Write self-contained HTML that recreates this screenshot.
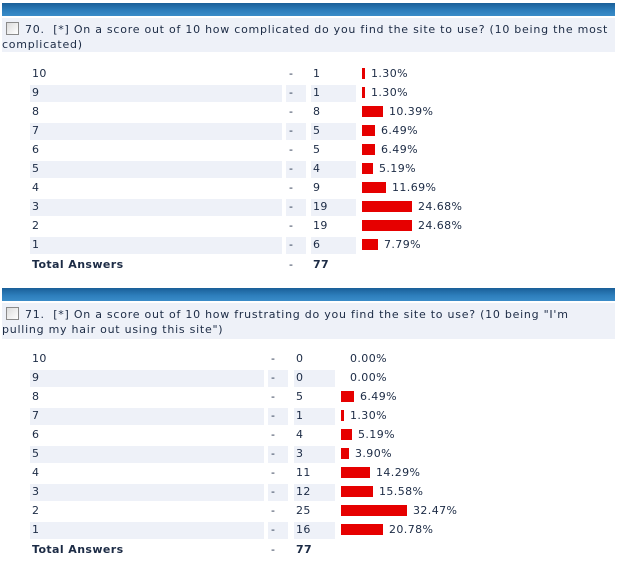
<!DOCTYPE html>
<html><head><meta charset="utf-8"><style>
body{margin:0;width:619px;height:565px;background:#fff;position:relative;overflow:hidden;font-family:Verdana,"DejaVu Sans","Liberation Sans",sans-serif;font-size:11px;color:#1c2b45;letter-spacing:0.4px}
.abs{position:absolute}
.bluebar{position:absolute;left:2px;width:613px;height:13px;background:linear-gradient(#1a5f98,#2e7fbd 60%,#3a8cc8)}
.qhead{position:absolute;left:2px;width:613px;background:#eef1f8;line-height:15px;font-size:11px;letter-spacing:0.75px}
.cb{display:inline-block;width:11px;height:11px;border:1px solid #8a8a8a;background:linear-gradient(135deg,#dcdcdc,#fff);vertical-align:-2px;margin:0 6px 0 4px}
.cell{position:absolute;height:17px}
.t{position:absolute;line-height:14px;white-space:nowrap}
.bar{position:absolute;height:11px;background:#e60000}
</style></head><body>
<div class="bluebar" style="top:3px"></div>
<div class="qhead" style="top:18px;height:34px;padding-top:4px;box-sizing:border-box"><span class="cb"></span>70.&nbsp; [*] On a score out of 10 how complicated do you find the site to use? (10 being the most complicated)</div>
<div class="bluebar" style="top:288px"></div>
<div class="qhead" style="top:303px;height:36px;padding-top:4px;box-sizing:border-box"><span class="cb"></span>71.&nbsp; [*] On a score out of 10 how frustrating do you find the site to use? (10 being "I'm pulling my hair out using this site")</div>
<div id="c1"></div>
<div id="c2"></div>
<script>
const labels=["10","9","8","7","6","5","4","3","2","1"];
const counts1=[1,1,8,5,5,4,9,19,19,6];
const pcts1=[1.30,1.30,10.39,6.49,6.49,5.19,11.69,24.68,24.68,7.79];
const total1=77;
const counts2=[0,0,5,1,4,3,11,12,25,16];
const pcts2=[0.00,0.00,6.49,1.30,5.19,3.90,14.29,15.58,32.47,20.78];
const total2=77;
function draw(host,pre,top,counts,pcts,total,g){
  const root=document.getElementById(host);
  function add(cls,style,txt,name){const e=document.createElement('div');e.className=cls;e.style.cssText=style;if(txt!=null)e.textContent=txt;
    
    
    root.appendChild(e);return e;}
  const scale=2.03;
  labels.forEach((lab,i)=>{
    const y=top+i*19;
    if(i%2==1){
      add('cell abs',`left:30px;top:${y-2}px;width:${g.dash-37}px;background:#eef1f8`,null,pre+'row-bg');
      add('cell abs',`left:${g.dash-3}px;top:${y-2}px;width:20px;background:#eef1f8`,null,pre+'row-bg');
      add('cell abs',`left:${g.cnt-2}px;top:${y-2}px;width:${g.bar-g.cnt-4}px;background:#eef1f8`,null,pre+'row-bg');
    }
    add('t',`left:32px;top:${y-1}px`,lab,pre+'label-'+lab);
    add('t',`left:${g.dash}px;top:${y-1}px`,'-',pre+'dash');
    add('t',`left:${g.cnt}px;top:${y-1}px`,String(counts[i]),pre+'count-'+lab);
    const w=Math.round(pcts[i]*scale);
    if(w>0) add('bar',`left:${g.bar}px;top:${y}px;width:${Math.max(w,3)}px`,null,pre+'bar-'+lab);
    add('t',`left:${g.bar+Math.max(w,3)+6}px;top:${y-1}px`,pcts[i].toFixed(2)+'%',pre+'pct-'+lab);
  });
  const y=top+10*19+1;
  add('t',`left:32px;top:${y-1}px;font-weight:bold`,'Total Answers',pre+'total-label');
  add('t',`left:${g.dash}px;top:${y-1}px`,'-',pre+'total-dash');
  add('t',`left:${g.cnt}px;top:${y-1}px;font-weight:bold`,String(total),pre+'total-count');
}
draw('c1','q70-',68,counts1,pcts1,total1,{dash:289,cnt:313,bar:362});
draw('c2','q71-',353,counts2,pcts2,total2,{dash:271,cnt:296,bar:341});
</script>
</body></html>
